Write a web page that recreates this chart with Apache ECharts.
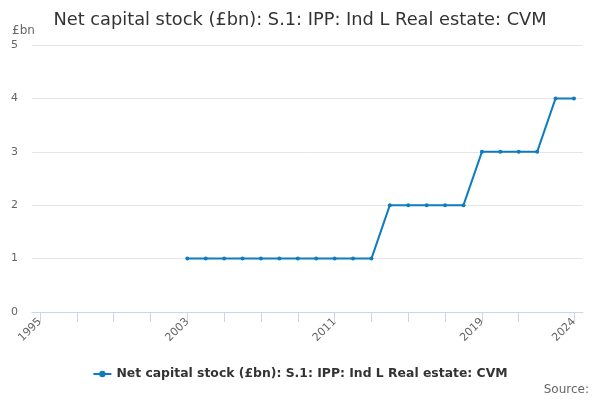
<!DOCTYPE html>
<html>
<head>
<meta charset="utf-8">
<script src="https://cdn.jsdelivr.net/npm/echarts@6/dist/echarts.min.js"></script>
<style>
html,body{margin:0;padding:0;background:#fff;}
#chart{width:600px;height:400px;}
</style>
</head>
<body>
<div id="chart"></div>
<script>
var years = [1995,1996,1997,1998,1999,2000,2001,2002,2003,2004,2005,2006,2007,2008,2009,2010,2011,2012,2013,2014,2015,2016,2017,2018,2019,2020,2021,2022,2023,2024];
var values = [null,null,null,null,null,null,null,null,
  1,1,1,1,1,1,1,1,1,1,1,
  2,2,2,2,2,
  3,3,3,3,
  4,4];
var yTicks = [0,1,2,3,4,5];
var tickYears = [1995,1997,1999,2001,2003,2005,2007,2009,2011,2013,2015,2017,2019,2021,2024];
var labelYears = [1995,2003,2011,2019,2024];
var seriesName = 'Net capital stock (£bn): S.1: IPP: Ind L Real estate: CVM';
var titleText = 'Net capital stock (£bn): S.1: IPP: Ind L Real estate: CVM';

var points = years.map(function (y, i) { return [y, values[i]]; });

var chart = echarts.init(document.getElementById('chart'));
var font = 'DejaVu Sans';
chart.setOption({
  animation: false,
  textStyle: {fontFamily: font},
  title: {
    text: titleText, left: 'center', top: 6,
    textStyle: {fontFamily: font, fontSize: 17.8, fontWeight: 'normal', color: '#333'}
  },
  graphic: [
    {type: 'text', left: 12, top: 25, style: {text: '£bn', fontFamily: font, fontSize: 12, fill: '#666'}},
    {type: 'text', right: 11, top: 384, style: {text: 'Source:', fontFamily: font, fontSize: 12, fill: '#666'}}
  ],
  legend: {
    bottom: 15, left: 'center',
    itemWidth: 18, itemHeight: 8,
    textStyle: {fontFamily: font, fontSize: 12.4, fontWeight: 'bold', color: '#333'},
    data: [seriesName]
  },
  grid: {left: 32, right: 17, top: 45, bottom: 88, containLabel: false},
  xAxis: {
    type: 'value', min: 1994.565, max: 2024.49,
    axisLine: {show: true, onZero: false, lineStyle: {color: '#ccd6eb'}},
    axisTick: {
      show: true, length: 10, lineStyle: {color: '#ccd6eb'},
      customValues: tickYears
    },
    axisLabel: {
      rotate: 45, color: '#666', fontSize: 11, fontFamily: font, margin: 8,
      customValues: labelYears,
      formatter: function (v) { return String(Math.round(v)); }
    },
    splitLine: {show: false}
  },
  yAxis: {
    type: 'value', min: 0, max: 5, interval: 1,
    axisLine: {show: false}, axisTick: {show: false},
    axisLabel: {color: '#666', fontSize: 11, fontFamily: font, margin: 21, align: 'left'},
    splitLine: {lineStyle: {color: '#e6e6e6'}}
  },
  series: [{
    name: seriesName, type: 'line', data: points,
    color: '#0f7cbf',
    lineStyle: {width: 2, color: '#0f7cbf'},
    symbol: 'circle', symbolSize: 4,
    itemStyle: {color: '#0f7cbf'}
  }]
});
</script>
</body>
</html>
